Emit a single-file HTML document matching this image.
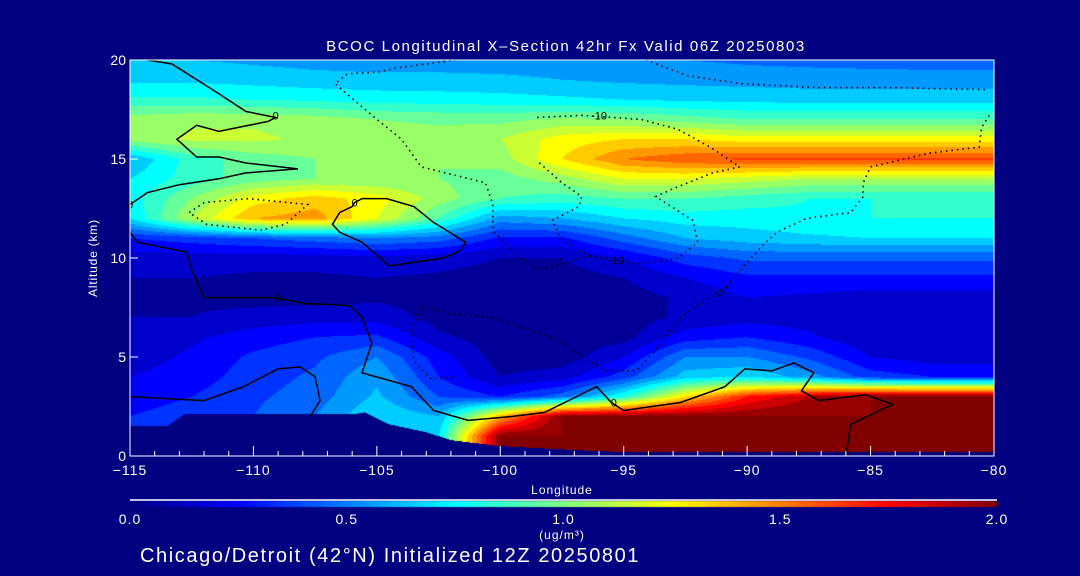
<!DOCTYPE html>
<html><head><meta charset="utf-8"><style>
html,body{margin:0;padding:0;background:#000080;}
#wrap{position:relative;width:1080px;height:576px;background:#000080;overflow:hidden;font-family:"Liberation Sans",sans-serif;color:#fff;}
canvas,svg{position:absolute;left:0;top:0;}
</style></head><body>
<div id="wrap">
<canvas id="field" width="1080" height="576"></canvas>
<svg id="ov" width="1080" height="576"></svg>
</div>
<script>
// ---- data ----
const lons = [-115,-112.5,-110,-107.5,-105,-102.5,-100,-97.5,-95,-92.5,-90,-87.5,-85,-82.5,-80];
const alts = [20,19,18,17,16,15,14,13,12,11,10,9,8,7,6,5,4,3,2,1,0];
const row20 = [0.6,0.6,0.58,0.56,0.55,0.55,0.55,0.55,0.5,0.5,0.48,0.47,0.46,0.45,0.45];
const row19 = [0.68,0.68,0.66,0.64,0.63,0.63,0.62,0.6,0.58,0.57,0.56,0.55,0.55,0.55,0.55];
const row18 = [0.82,0.82,0.8,0.78,0.76,0.75,0.74,0.72,0.7,0.68,0.67,0.66,0.66,0.66,0.66];
const row17 = [1.05,1.08,1.08,1.05,1.0,0.98,0.97,1.02,1.0,0.95,0.9,0.9,0.9,0.9,0.9];
const row16 = [1.05,1.12,1.12,1.08,1.05,1.05,1.1,1.25,1.3,1.3,1.25,1.25,1.25,1.25,1.25];
const row15 = [0.6,0.85,0.95,1.0,1.0,1.0,1.05,1.3,1.5,1.58,1.62,1.62,1.62,1.62,1.62];
const row14 = [0.7,0.85,0.95,1.0,1.0,1.0,0.95,1.05,1.2,1.2,1.15,1.1,1.1,1.1,1.1];
const row13 = [0.75,1.0,1.25,1.35,1.25,1.05,0.9,0.85,0.9,0.9,0.85,0.8,0.8,0.8,0.8];
const row12 = [0.7,1.1,1.4,1.45,1.2,0.9,0.55,0.6,0.7,0.75,0.75,0.78,0.8,0.8,0.8];
const row11 = [0.3,0.35,0.4,0.45,0.5,0.45,0.28,0.28,0.45,0.6,0.65,0.68,0.7,0.7,0.7];
const row10 = [0.15,0.15,0.15,0.15,0.17,0.15,0.1,0.1,0.2,0.35,0.42,0.42,0.42,0.42,0.42];
const row9  = [0.1,0.1,0.08,0.08,0.1,0.08,0.05,0.05,0.1,0.2,0.28,0.28,0.28,0.28,0.28];
const row8  = [0.1,0.08,0.06,0.06,0.08,0.05,0.03,0.03,0.05,0.12,0.2,0.18,0.15,0.15,0.15];
const row7  = [0.1,0.1,0.14,0.16,0.16,0.06,0.03,0.03,0.05,0.12,0.16,0.15,0.1,0.1,0.1];
const row6  = [0.12,0.18,0.25,0.3,0.32,0.12,0.04,0.03,0.06,0.25,0.3,0.22,0.12,0.1,0.1];
const row5  = [0.15,0.22,0.32,0.38,0.5,0.25,0.05,0.04,0.2,0.5,0.5,0.38,0.2,0.15,0.15];
const row4  = [0.2,0.25,0.35,0.42,0.58,0.3,0.1,0.15,0.35,0.65,0.7,0.55,0.35,0.3,0.3];
const row3  = [0.25,0.3,0.38,0.45,0.62,0.4,0.3,0.45,0.8,1.3,1.7,1.9,2.0,2.0,2.0];
const row2  = [0.3,0.35,0.4,0.5,0.7,0.6,1.4,2.0,2.0,2.0,2.0,2.0,2.0,2.0,2.0];
const row1  = [0.3,0.35,0.4,0.5,0.7,0.7,2.0,2.0,2.0,2.0,2.0,2.0,2.0,2.0,2.0];
const row0  = [0.3,0.35,0.4,0.5,0.7,0.7,2.0,2.0,2.0,2.0,2.0,2.0,2.0,2.0,2.0];
const terrainLon = [-115,-113.5,-112.8,-106,-105.5,-104.5,-103,-102,-100,-97,-95,-80];
const terrainAlt = [1.5,1.5,2.1,2.1,2.2,1.6,1.2,0.8,0.5,0.3,0.2,0.2];
const xTicks = [-115,-110,-105,-100,-95,-90,-85,-80];
const xTickLabels = ["\u2212115","\u2212110","\u2212105","\u2212100","\u221295","\u221290","\u221285","\u221280"];
const yTicks = [0,5,10,15,20];
const cbTicks = [0,0.5,1.0,1.5,2.0];
const cbTickLabels = ["0.0","0.5","1.0","1.5","2.0"];
// contours [lon,alt]
const contourSolidA = [[-114.3,20],[-113.3,19.8],[-111.4,18.3],[-110.3,17.4],[-109.1,17.1],[-109.4,16.9],[-111.4,16.4],[-112.3,16.7],[-113.1,16.0],[-112.3,15.1],[-111.4,15.1],[-110.3,14.8],[-108.2,14.5],[-110.3,14.3],[-111.4,14.0],[-113.0,13.7],[-114.3,13.3],[-115,12.7]];
const contourSolidB = [[-105.9,12.8],[-105.6,13.0],[-104.6,13.0],[-103.5,12.6],[-102.7,11.8],[-101.4,10.8],[-101.6,10.4],[-102.3,10.0],[-104.5,9.6],[-105.6,10.8],[-106.5,11.3],[-106.8,11.7],[-106.5,12.3],[-106.0,12.6],[-105.9,12.8]];
const contourSolidC = [[-115,11.3],[-114.7,10.8],[-112.7,10.3],[-112.5,9.4],[-112.0,8.0],[-109.1,8.0],[-107.9,7.7],[-106.1,7.6],[-105.6,7.0],[-105.2,5.7],[-105.6,4.2],[-103.6,3.5],[-102.7,2.3],[-101.3,1.8],[-99.5,2.0],[-98.2,2.2],[-96.1,3.5],[-95.5,2.7],[-95.0,2.3],[-92.7,2.7],[-90.9,3.5],[-90.1,4.4],[-89.0,4.3],[-88.1,4.7],[-87.3,4.2],[-87.8,3.3],[-87.1,2.8],[-85.2,3.1],[-84.1,2.6],[-84.8,2.2],[-85.8,1.6],[-86.0,0]];
const contourSolidD = [[-115,3.0],[-112,2.8],[-110.4,3.5],[-109.0,4.4],[-108.1,4.5],[-107.5,4.0],[-107.3,2.8],[-107.7,2.0]];
const contourDotA = [[-98.5,17.1],[-96.7,17.2],[-94.3,17.0],[-92.8,16.5],[-91.5,15.6],[-90.3,14.6],[-91.4,14.3],[-93.0,13.5],[-93.7,13.1],[-92.2,11.9],[-92.0,10.8],[-92.8,10.0],[-94.3,9.7],[-96.4,10.1],[-97.5,10.9],[-97.9,11.9],[-96.8,12.6],[-96.7,13.1],[-97.5,13.8],[-98.5,14.9]];
const contourDotB = [[-80.2,17.2],[-80.5,16.6],[-80.6,15.6],[-82.6,15.3],[-85.0,14.6],[-85.3,13.8],[-85.3,13.1],[-85.8,12.3],[-87.6,12.0],[-88.8,11.3],[-89.4,10.6],[-90.2,9.5],[-91.2,8.0],[-90.7,8.7],[-92.7,7.0],[-93.6,5.5],[-94.5,4.3],[-95.8,4.3],[-97.7,5.9],[-100.4,7.0],[-102,7.2],[-103.2,7.6],[-103.6,6.0],[-103.5,4.8],[-102.8,3.9],[-101.8,4.0]];
const contourDotC = [[-101.8,20.0],[-104.2,19.6],[-104.9,19.4],[-106.2,19.3],[-106.7,18.8],[-105.0,17.0],[-104.0,16.0],[-103.2,14.6],[-100.6,13.8],[-100.3,12.7],[-100.3,11.4],[-99.3,10.1],[-98.4,9.4],[-96.4,10.1]];
const contourDotD = [[-94.1,20],[-92.4,19.2],[-90.2,18.8],[-87.1,18.6],[-84.0,18.6],[-80.3,18.5]];
const contourDotE = [[-112.6,12.3],[-112.0,12.8],[-110.2,13.0],[-107.8,12.7],[-108.7,11.7],[-109.7,11.4],[-111.9,11.7],[-112.6,12.3]];

// ---- axes ----
const PX0=130, PX1=994, PY0=60, PY1=456;
const LON0=-115, LON1=-80, ALT0=0, ALT1=20, VMAX=2;
const xs = lon => PX0 + (lon-LON0)/(LON1-LON0)*(PX1-PX0);
const ys = a => PY1 - (a-ALT0)/(ALT1-ALT0)*(PY1-PY0);
const grid = [row20,row19,row18,row17,row16,row15,row14,row13,row12,row11,row10,row9,row8,row7,row6,row5,row4,row3,row2,row1,row0];

function jet(t){
  t=Math.max(0,Math.min(1,t));
  const c=v=>Math.round(255*Math.max(0,Math.min(1,v)));
  return [c(1.5-Math.abs(4*t-3)),c(1.5-Math.abs(4*t-2)),c(1.5-Math.abs(4*t-1))];
}
function interp1(xa,ya,x){
  if(x<=xa[0])return ya[0];
  for(let i=1;i<xa.length;i++){ if(x<=xa[i]){const f=(x-xa[i-1])/(xa[i]-xa[i-1]);return ya[i-1]+f*(ya[i]-ya[i-1]);} }
  return ya[ya.length-1];
}
function val(lon,alt){
  let fi=(lon-lons[0])/(lons[1]-lons[0]); fi=Math.max(0,Math.min(lons.length-1.0001,fi));
  let fj=(alts[0]-alt)/(alts[0]-alts[1]); fj=Math.max(0,Math.min(alts.length-1.0001,fj));
  const i=Math.floor(fi), j=Math.floor(fj), u=fi-i, w=fj-j;
  const a=grid[j][i], b=grid[j][i+1], c=grid[j+1][i], d=grid[j+1][i+1];
  return (a*(1-u)+b*u)*(1-w)+(c*(1-u)+d*u)*w;
}
const cv=document.getElementById('field'), ctx=cv.getContext('2d');
ctx.fillStyle='#000080'; ctx.fillRect(0,0,1080,576);
const W=PX1-PX0, H=PY1-PY0, img=ctx.createImageData(W,H);
for(let py=0;py<H;py++){
  const alt=ALT1-(py+0.5)/H*(ALT1-ALT0);
  for(let px=0;px<W;px++){
    const lon=LON0+(px+0.5)/W*(LON1-LON0);
    let col;
    if(alt<interp1(terrainLon,terrainAlt,lon)) col=[0,0,128];
    else { let v=val(lon,alt)/VMAX; v=Math.min(1,(Math.floor(v*20)+0.5)/20); col=jet(v); }
    const k=(py*W+px)*4; img.data[k]=col[0];img.data[k+1]=col[1];img.data[k+2]=col[2];img.data[k+3]=255;
  }
}
ctx.putImageData(img,PX0,PY0);
// colorbar
const CB0=130, CB1=997, CBY=501;
for(let x=CB0;x<CB1;x++){ const c=jet((x-CB0)/(CB1-CB0)); ctx.fillStyle=`rgb(${c[0]},${c[1]},${c[2]})`; ctx.fillRect(x,CBY,1,6); }

// ---- overlay ----
const NS='http://www.w3.org/2000/svg', ov=document.getElementById('ov');
function mk(tag,attrs,parent){const e=document.createElementNS(NS,tag);for(const k in attrs)e.setAttribute(k,attrs[k]);(parent||ov).appendChild(e);return e;}
function txt(s,attrs){const e=mk('text',Object.assign({fill:'#fff','font-family':'Liberation Sans, sans-serif'},attrs));e.textContent=s;return e;}
function contour(pts,dotted,name){
  const e=mk('polyline',{points:pts.map(p=>xs(p[0]).toFixed(1)+','+ys(p[1]).toFixed(1)).join(' '),fill:'none',stroke:'#000','stroke-width':dotted?1.6:1.5,'stroke-dasharray':dotted?'1.5 4':'none'});
  
  
}
contour(contourSolidA,false,'contour-0-upper');
contour(contourSolidB,false,'contour-0-loop');
contour(contourSolidC,false,'contour-0-lower');
contour(contourSolidD,false,'contour-0-left');
contour(contourDotA,true,'contour-minus10-a');
contour(contourDotB,true,'contour-minus10-b');
contour(contourDotC,true,'contour-minus10-c');
contour(contourDotD,true,'contour-minus10-d');
contour(contourDotE,true,'contour-minus10-e');
const lab=[['0',-109.1,17.2],['0',-115,12.7],['0',-105.9,12.8],['0',-109.0,8.0],['0',-95.4,2.7],['-10',-96.0,17.2],['-10',-95.3,9.9]];
lab.forEach(l=>{const t=txt(l[0],{x:xs(l[1]),y:ys(l[2])+4,'font-size':11,fill:'#000','text-anchor':'middle'});
  
  });
// frame
const fr=mk('rect',{x:PX0,y:PY0,width:PX1-PX0,height:PY1-PY0,fill:'none',stroke:'#fff','stroke-width':1});


// x ticks
for(let l=LON0;l<=LON1;l++){
  const major=(l%5===0), x=xs(l);
  const t=mk('line',{x1:x,x2:x,y1:PY1,y2:PY1-(major?10:5),stroke:'#fff','stroke-width':1});
  
  
}
xTicks.forEach((v,i)=>{const t=txt(xTickLabels[i],{x:xs(v),y:475,'font-size':14,'letter-spacing':'1','text-anchor':'middle'});
  
  });
yTicks.forEach(v=>{
  const l=mk('line',{x1:PX0,x2:PX0+8,y1:ys(v),y2:ys(v),stroke:'#fff','stroke-width':1});
  
  
  const t=txt(String(v),{x:126,y:ys(v)+5,'font-size':14,'text-anchor':'end'});
  
  
});
let e;
e=txt('BCOC Longitudinal X\u2013Section 42hr  Fx Valid 06Z 20250803',{x:566,y:51,'font-size':15,'letter-spacing':'1.6','text-anchor':'middle'});
 
e=txt('Altitude (km)',{x:0,y:0,'font-size':12,'letter-spacing':'0.8','text-anchor':'middle',transform:'translate(97,258) rotate(-90)'});
 
e=txt('Longitude',{x:562,y:494,'font-size':12,'letter-spacing':'1','text-anchor':'middle'});
 
e=mk('line',{x1:CB0,x2:CB1,y1:CBY-1,y2:CBY-1,stroke:'#fff','stroke-width':1.5});
 
cbTicks.forEach((v,i)=>{const t=txt(cbTickLabels[i],{x:CB0+v/VMAX*(CB1-CB0),y:524,'font-size':14,'letter-spacing':'1','text-anchor':'middle'});
  
  });
e=txt('(ug/m\u00b3)',{x:562,y:539,'font-size':12,'letter-spacing':'1','text-anchor':'middle'});
 
e=txt('Chicago/Detroit (42\u00b0N) Initialized 12Z 20250801',{x:140,y:562,'font-size':20,'letter-spacing':'1.6'});
 
</script>
</body></html>
